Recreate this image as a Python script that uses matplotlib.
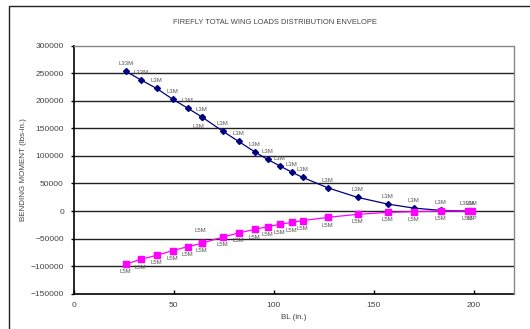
import matplotlib
matplotlib.use("Agg")
import matplotlib.pyplot as plt
from matplotlib.patches import Rectangle

plt.rcParams['font.family'] = ['Liberation Sans', 'DejaVu Sans']

# BL stations (in.) - 64 appears twice in both load cases
bl = [26, 33.5, 41.5, 49.5, 57, 64, 64, 74.5, 82.5, 90.5, 97, 103, 109, 114.5,
      127, 142, 157, 170, 183.5, 197, 199]

# positive envelope (navy)
pos_moment = [253900, 238200, 222500, 203100, 186800, 171100, 171100, 145100,
              126400, 107600, 93700, 82200, 70700, 61100, 42300, 24800, 12700,
              5400, 1200, 0, 0]
pos_labels = ['L33M', 'L33M', 'L3M', 'L3M', 'L3M', 'L3M', 'L3M', 'L3M', 'L3M',
              'L3M', 'L3M', 'L3M', 'L3M', 'L3M', 'L3M', 'L3M', 'L3M', 'L3M',
              'L3M', 'L33M', 'L3M']

# negative envelope (magenta)
neg_moment = [-96700, -87700, -80400, -71900, -64700, -58600, -58600, -47200,
              -39900, -33300, -28400, -24200, -20600, -17500, -11500, -6000,
              -2400, -1200, 0, 0, 0]
neg_labels = ['L5M', 'L5M', 'L5M', 'L5M', 'L5M', 'L5M', 'L5M', 'L5M', 'L5M',
              'L5M', 'L5M', 'L5M', 'L5M', 'L5M', 'L5M', 'L5M', 'L5M', 'L5M',
              'L5M', 'L5M', 'L5P']

x_ticks = [0, 50, 100, 150, 200]
y_ticks = [-150000, -100000, -50000, 0, 50000, 100000, 150000, 200000, 250000, 300000]

fig = plt.figure(figsize=(5.3, 3.29), dpi=100)
ax = fig.add_axes([73.6 / 530, 1 - 293.7 / 329, (513.5 - 73.6) / 530, (293.7 - 45.7) / 329])

# gridlines
for y in y_ticks[1:-1]:
    ax.axhline(y, color='#222222', lw=1.0, zorder=1)

ax.plot(bl, pos_moment, color='#000080', lw=0.9, marker='D', ms=3, zorder=3)
ax.plot(bl, neg_moment, color='#FF00FF', lw=0.9, marker='s', ms=3.8, zorder=3)

label_kw = dict(textcoords='offset points', ha='center', va='center',
                fontsize=4.3, color='#555555', zorder=4)
for i in range(len(bl)):
    off = (0, 5.5)
    if i == 6:
        off = (-2.4, -6.7)
    ax.annotate(pos_labels[i], (bl[i], pos_moment[i]), xytext=off, **label_kw)
    off = (0, -5.5)
    if i == 6:
        off = (-1.2, 9.1)
    ax.annotate(neg_labels[i], (bl[i], neg_moment[i]), xytext=off, **label_kw)

ax.set_xlim(0, 220)
ax.set_ylim(-150000, 300000)
ax.set_xticks(x_ticks)
ax.set_yticks(y_ticks)
ax.tick_params(axis='x', direction='in', length=3, width=1, pad=6,
               labelsize=6, labelcolor='#444444')
ax.tick_params(axis='y', direction='out', length=2, width=1, pad=5,
               labelsize=6, labelcolor='#444444')

for side in ['top', 'right']:
    ax.spines[side].set_color('#888888')
    ax.spines[side].set_linewidth(1)
for side in ['left', 'bottom']:
    ax.spines[side].set_color('black')
    ax.spines[side].set_linewidth(1.2)

ax.set_xlabel('BL (in.)', fontsize=5.8, color='#444444')
ax.set_ylabel('BENDING MOMENT (lbs-in.)', fontsize=5.8, color='#444444')
ax.xaxis.set_label_coords(0.5, -0.094)
ax.yaxis.set_label_coords(-0.113, 0.5)
ax.xaxis.label.set_va('center')
ax.yaxis.label.set_va('center')

fig.text(274.5 / 530, 1 - 22 / 329, 'FIREFLY TOTAL WING LOADS DISTRIBUTION ENVELOPE',
         ha='center', va='center', fontsize=5.4, color='#444444')

# outer chart border
fig.add_artist(Rectangle((9 / 530, -0.5), 2, 1 - 6 / 329 + 0.5,
                         transform=fig.transFigure, fill=False, lw=1, ec='#222222'))

fig.savefig('out.png', dpi=100)
